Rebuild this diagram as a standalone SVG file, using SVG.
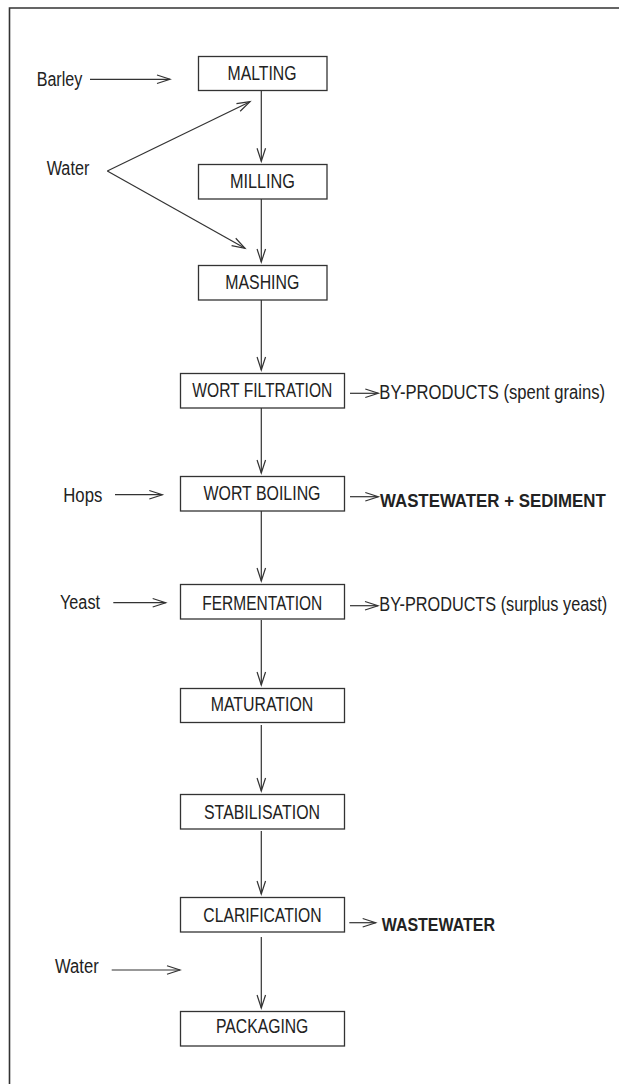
<svg xmlns="http://www.w3.org/2000/svg" width="619" height="1084" viewBox="0 0 619 1084">
<defs>
<style>
.box{fill:#fff;stroke:#333;stroke-width:1.3}
.t{font-family:"Liberation Sans",Arial,sans-serif;font-size:19.5px;fill:#222}
.b{font-family:"Liberation Sans",Arial,sans-serif;font-size:17.5px;font-weight:bold;fill:#222}
.c{fill:none;stroke:#333;stroke-width:1.2}
.frame{fill:none;stroke:#333;stroke-width:1.6}
</style>
<marker id="ah" markerUnits="userSpaceOnUse" markerWidth="16" markerHeight="12" refX="13" refY="4.25" orient="auto" overflow="visible">
<path d="M0,0 L13,4.25 L0,8.5" fill="none" stroke="#333" stroke-width="1.2"/>
</marker>
</defs>
<rect width="619" height="1084" fill="#fff"/>
<polyline class="frame" points="9.5,1084 9.5,8 619,8"/>

<g id="n-malting"><rect class="box" x="198.5" y="56.5" width="128.5" height="34"/><text class="t" x="262" y="79.5" text-anchor="middle" textLength="69" lengthAdjust="spacingAndGlyphs">MALTING</text></g>
<g id="n-milling"><rect class="box" x="198.5" y="164.5" width="128.5" height="34.5"/><text class="t" x="262.5" y="187.5" text-anchor="middle" textLength="65" lengthAdjust="spacingAndGlyphs">MILLING</text></g>
<g id="n-mashing"><rect class="box" x="198.5" y="265.5" width="128.5" height="34.5"/><text class="t" x="262.3" y="289.3" text-anchor="middle" textLength="74" lengthAdjust="spacingAndGlyphs">MASHING</text></g>
<g id="n-wortfiltration"><rect class="box" x="180.5" y="373.5" width="164" height="34.5"/><text class="t" x="262.3" y="396.7" text-anchor="middle" textLength="140" lengthAdjust="spacingAndGlyphs">WORT FILTRATION</text></g>
<g id="n-wortboiling"><rect class="box" x="180.5" y="476.5" width="164" height="34.5"/><text class="t" x="262" y="500" text-anchor="middle" textLength="117" lengthAdjust="spacingAndGlyphs">WORT BOILING</text></g>
<g id="n-fermentation"><rect class="box" x="180.5" y="584.5" width="164" height="34.5"/><text class="t" x="262.3" y="610" text-anchor="middle" textLength="120" lengthAdjust="spacingAndGlyphs">FERMENTATION</text></g>
<g id="n-maturation"><rect class="box" x="180.5" y="688.5" width="164" height="34"/><text class="t" x="262" y="711.3" text-anchor="middle" textLength="102.6" lengthAdjust="spacingAndGlyphs">MATURATION</text></g>
<g id="n-stabilisation"><rect class="box" x="180.5" y="794.5" width="164" height="34.5"/><text class="t" x="262" y="819" text-anchor="middle" textLength="116" lengthAdjust="spacingAndGlyphs">STABILISATION</text></g>
<g id="n-clarification"><rect class="box" x="180.5" y="897.5" width="164" height="34.5"/><text class="t" x="262.5" y="921.7" text-anchor="middle" textLength="118.3" lengthAdjust="spacingAndGlyphs">CLARIFICATION</text></g>
<g id="n-packaging"><rect class="box" x="180.5" y="1011.5" width="164" height="34.5"/><text class="t" x="262.2" y="1033.3" text-anchor="middle" textLength="92.3" lengthAdjust="spacingAndGlyphs">PACKAGING</text></g>

<g id="inputs">
<text class="t" x="36.7" y="86" textLength="45.6" lengthAdjust="spacingAndGlyphs">Barley</text>
<text class="t" x="46.7" y="175" textLength="42.6" lengthAdjust="spacingAndGlyphs">Water</text>
<text class="t" x="63.3" y="501.7" textLength="39" lengthAdjust="spacingAndGlyphs">Hops</text>
<text class="t" x="60" y="609" textLength="40" lengthAdjust="spacingAndGlyphs">Yeast</text>
<text class="t" x="55" y="973.3" textLength="43.7" lengthAdjust="spacingAndGlyphs">Water</text>
</g>
<g id="outputs">
<text class="t" transform="translate(379.3,399) scale(0.78,1)" x="0" y="0" textLength="289.4" lengthAdjust="spacingAndGlyphs">BY-PRODUCTS (spent grains)</text>
<text class="b" x="380" y="506.7" textLength="225.7" lengthAdjust="spacingAndGlyphs">WASTEWATER + SEDIMENT</text>
<text class="t" transform="translate(379.3,610.7) scale(0.78,1)" x="0" y="0" textLength="292.3" lengthAdjust="spacingAndGlyphs">BY-PRODUCTS (surplus yeast)</text>
<text class="b" x="381.7" y="930.7" textLength="113.3" lengthAdjust="spacingAndGlyphs">WASTEWATER</text>
</g>

<g id="connectors" class="c" marker-end="url(#ah)">
<line x1="261.3" y1="90.5" x2="261.3" y2="161.3"/>
<line x1="261.3" y1="199" x2="261.3" y2="262"/>
<line x1="261.3" y1="300" x2="261.3" y2="370"/>
<line x1="261.3" y1="408" x2="261.3" y2="473"/>
<line x1="261.3" y1="511" x2="261.3" y2="581"/>
<line x1="261.3" y1="620" x2="261.3" y2="685"/>
<line x1="261.3" y1="725" x2="261.3" y2="791"/>
<line x1="261.3" y1="831" x2="261.3" y2="894"/>
<line x1="261.3" y1="937" x2="261.3" y2="1008"/>
<line x1="90" y1="79.3" x2="170" y2="79.3"/>
<line x1="107.3" y1="171" x2="250" y2="101.7"/>
<line x1="107.3" y1="171" x2="245" y2="248.3"/>
<line x1="115" y1="494.7" x2="162.3" y2="494.7"/>
<line x1="113.3" y1="602.7" x2="165.7" y2="602.7"/>
<line x1="111.7" y1="970" x2="180" y2="970"/>
<line x1="350" y1="393.3" x2="378.3" y2="393.3"/>
<line x1="350" y1="496.7" x2="378.3" y2="496.7"/>
<line x1="350" y1="605.7" x2="378" y2="605.7"/>
<line x1="349.3" y1="922.7" x2="375.7" y2="922.7"/>
</g>
</svg>
